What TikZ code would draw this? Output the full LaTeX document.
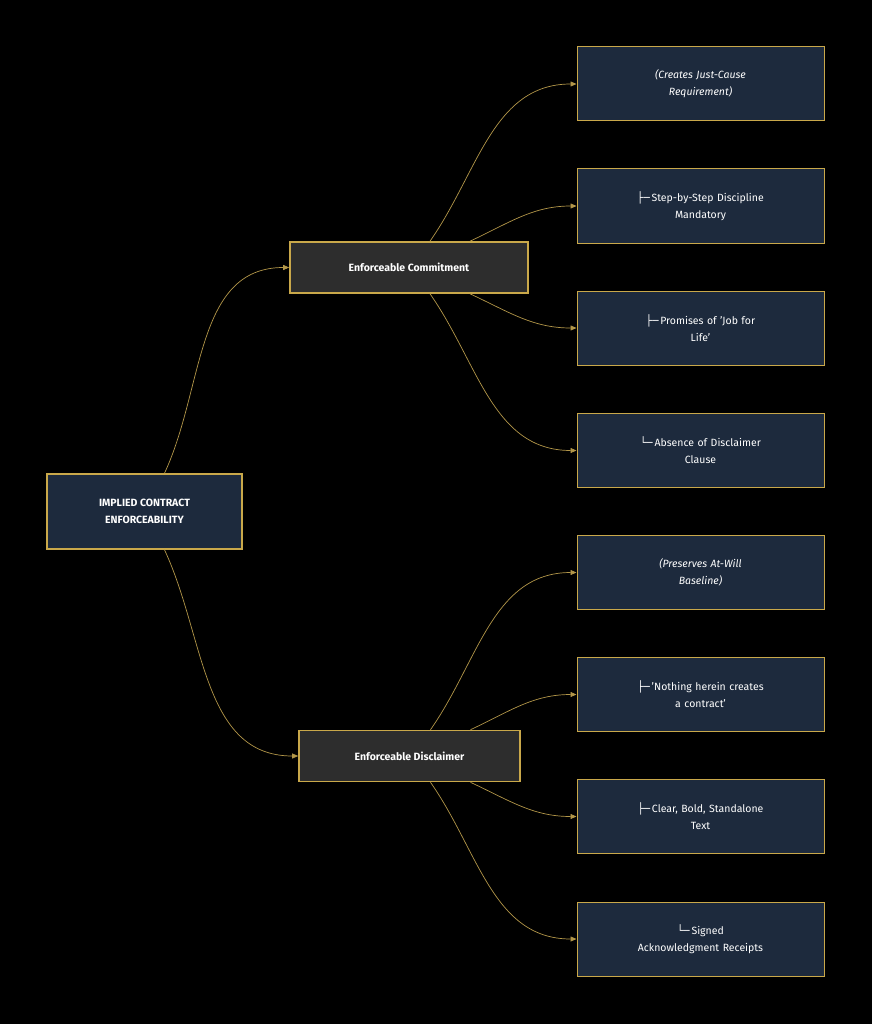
\documentclass[tikz,border=0pt]{standalone}
\usepackage{fontspec}
\setmainfont{Fira Sans}
\newfontfamily\boxfont{DejaVu Sans}
\usetikzlibrary{arrows.meta}
\definecolor{gold}{HTML}{C9A84A}
\definecolor{wire}{HTML}{B39749}
\definecolor{navy}{HTML}{1D2A3D}
\definecolor{coal}{HTML}{2D2D2D}
\newcommand{\tee}{{\boxfont ├─}\,}
\newcommand{\corner}{{\boxfont └─}\,}
\tikzset{
  root/.style={draw=gold, line width=1.6pt, fill=navy, text=white, font=\bfseries\fontsize{10.5}{17}\selectfont, minimum width=195pt, minimum height=75pt, align=center},
  branch/.style={draw=gold, line width=1.6pt, fill=coal, text=white, font=\bfseries\fontsize{10.5}{17}\selectfont, minimum height=51pt, align=center},
  leaf/.style={draw=gold, line width=1pt, fill=navy, text=white, font=\fontsize{10.5}{17}\selectfont, minimum width=247pt, minimum height=74pt, text width=200pt, align=center},
  link/.style={draw=wire, line width=0.7pt, -{Triangle[length=6pt,width=5pt]}}
}
\begin{document}
\begin{tikzpicture}[x=1pt,y=-1pt]
  \fill[black] (0,0) rectangle (872,1024);
  \useasboundingbox (0,0) rectangle (872,1024);

  \node [root] (R) at (144.5,511.5) {IMPLIED CONTRACT\\ENFORCEABILITY};
  \node [branch, minimum width=238pt] (C) at (409,267.5) {Enforceable Commitment};
  \node [branch, minimum width=221pt] (D) at (409.5,756) {Enforceable Disclaimer};

  \node [leaf] (c1) at (700.5,84) {\itshape (Creates Just-Cause\\\itshape Requirement)};
  \node [leaf] (c2) at (700.5,206) {\tee Step-by-Step Discipline\\Mandatory};
  \node [leaf] (c3) at (700.5,328) {\tee Promises of 'Job for\\Life'};
  \node [leaf] (c4) at (700.5,450.5) {\corner Absence of Disclaimer\\Clause};
  \node [leaf] (d1) at (700.5,572.5) {\itshape (Preserves At-Will\\\itshape Baseline)};
  \node [leaf] (d2) at (700.5,694.5) {\tee 'Nothing herein creates\\a contract'};
  \node [leaf] (d3) at (700.5,816.5) {\tee Clear, Bold, Standalone\\Text};
  \node [leaf] (d4) at (700.5,939) {\corner Signed\\Acknowledgment Receipts};

  \draw [link] ([xshift=20pt]R.north) to[out=65,in=180] (C.west);
  \draw [link] ([xshift=20pt]R.south) to[out=-65,in=180] (D.west);

  \draw [link] ([xshift=21pt]C.north) to[out=55,in=180] (c1.west);
  \draw [link] ([xshift=61pt]C.north) to[out=25,in=180] (c2.west);
  \draw [link] ([xshift=61pt]C.south) to[out=-25,in=180] (c3.west);
  \draw [link] ([xshift=21pt]C.south) to[out=-55,in=180] (c4.west);

  \draw [link] ([xshift=21pt]D.north) to[out=55,in=180] (d1.west);
  \draw [link] ([xshift=61pt]D.north) to[out=25,in=180] (d2.west);
  \draw [link] ([xshift=61pt]D.south) to[out=-25,in=180] (d3.west);
  \draw [link] ([xshift=21pt]D.south) to[out=-55,in=180] (d4.west);
\end{tikzpicture}
\end{document}
